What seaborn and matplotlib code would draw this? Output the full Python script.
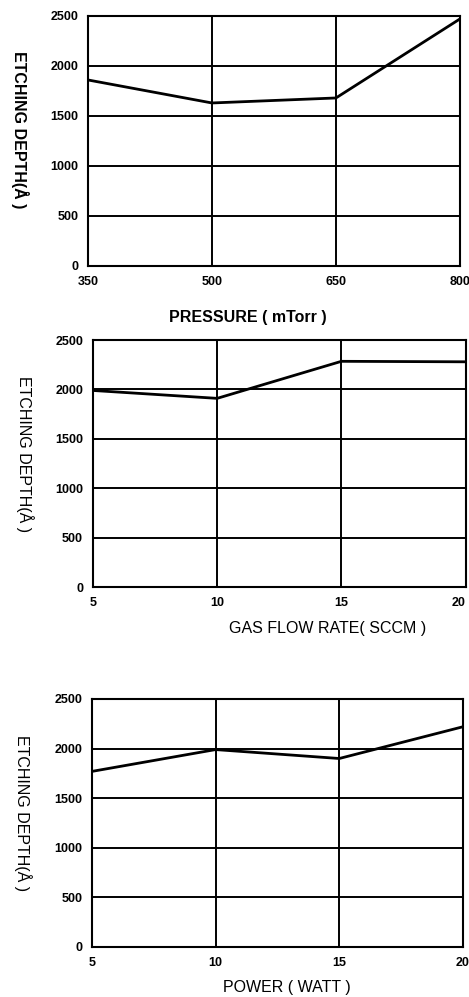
import matplotlib
matplotlib.use("Agg")
import matplotlib.pyplot as plt
import seaborn as sns
import pandas as pd

# data
pressure = [350, 500, 650, 800]
depth_pressure = [1860, 1630, 1680, 2470]

gas_flow = [5, 10, 15, 20]
depth_gas = [1990, 1910, 2285, 2280]

power = [5, 10, 15, 20]
depth_power = [1770, 1990, 1900, 2220]

y_ticks = [0, 500, 1000, 1500, 2000, 2500]

sns.set_style("white")
plt.rcParams['font.family'] = ['Liberation Sans', 'DejaVu Sans']
plt.rcParams['text.color'] = 'black'
plt.rcParams['axes.labelcolor'] = 'black'
plt.rcParams['xtick.color'] = 'black'
plt.rcParams['ytick.color'] = 'black'

fig = plt.figure(figsize=(4.69, 9.97), dpi=100)

panels = [
    # x, y, x ticks, xlabel, axes rect, xlabel coords, ylabel coords, label weight
    (pressure, depth_pressure, pressure, 'PRESSURE ( mTorr )',
     [0.1876, 0.7332, 0.793, 0.2508], (0.43, -0.204), (-0.183, 0.544), 'bold'),
    (gas_flow, depth_gas, gas_flow, 'GAS FLOW RATE( SCCM )',
     [0.198, 0.4112, 0.795, 0.2477], (0.63, -0.166), (-0.182, 0.54), 'normal'),
    (power, depth_power, power, 'POWER ( WATT )',
     [0.196, 0.0502, 0.791, 0.2487], (0.526, -0.165), (-0.186, 0.538), 'normal'),
]

for i, (xs, ys, xt, xlab, rect, xlc, ylc, wt) in enumerate(panels):
    ax = fig.add_axes(rect)
    df = pd.DataFrame({'x': xs, 'y': ys})
    sns.lineplot(data=df, x='x', y='y', ax=ax, color='black', linewidth=2.0)
    ax.set_xlim(xt[0], xt[-1])
    ax.set_ylim(0, 2500)
    ax.set_xticks(xt)
    ax.set_yticks(y_ticks)
    ax.grid(True, color='black', linewidth=1.4)
    for s in ax.spines.values():
        s.set_color('black')
        s.set_linewidth(1.5)
    ax.tick_params(length=0, pad=7, labelsize=9)
    for lbl in ax.get_xticklabels() + ax.get_yticklabels():
        lbl.set_fontweight('bold')
    if i == 1:
        ax.get_xticklabels()[-1].set_ha('right')
    ax.set_xlabel(xlab, fontsize=11.5, va='center', fontweight=wt)
    ax.xaxis.set_label_coords(*xlc)
    ax.set_ylabel('ETCHING DEPTH(Å )', fontsize=11.5, rotation=270, va='center',
                  fontweight=wt)
    ax.yaxis.set_label_coords(*ylc)

fig.savefig('out.png', dpi=100)
plt.close(fig)
